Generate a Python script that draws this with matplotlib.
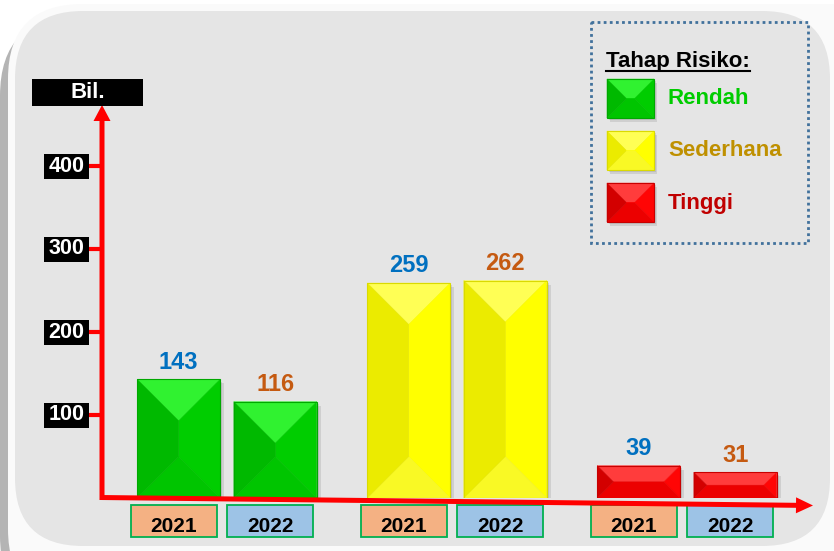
import matplotlib
matplotlib.use("Agg")
import matplotlib.pyplot as plt
from matplotlib.patches import FancyBboxPatch, Rectangle, Polygon, FancyArrow
from matplotlib.transforms import blended_transform_factory

plt.rcParams['font.family'] = ['Liberation Sans', 'DejaVu Sans']

# ---------------- data ----------------
categories = ['Rendah', 'Sederhana', 'Tinggi']
years = ['2021', '2022']
values_2021 = [143, 259, 39]
values_2022 = [116, 262, 31]
yticks = [100, 200, 300, 400]
legend_title = 'Tahap Risiko:'
y_label = 'Bil.'

# ---------------- styles ----------------
W, H = 834, 551
fig = plt.figure(figsize=(W / 100, H / 100), dpi=100)
fig.patch.set_facecolor('white')

facets = {
    'Rendah':    dict(top='#30F230', left='#00B900', right='#00CD00', bottom='#00C500', center='#00CA00', edge='#00A800'),
    'Sederhana': dict(top='#FFFF55', left='#EBEB00', right='#FFFF00', bottom='#F9F925', center='#FCFC05', edge='#DADA00'),
    'Tinggi':    dict(top='#FF3C3C', left='#D30000', right='#FF0505', bottom='#EC0000', center='#FA0000', edge='#C80000'),
}
legend_text_colors = {'Rendah': '#00CC00', 'Sederhana': '#BF9000', 'Tinggi': '#C00000'}
year_val_colors = {'2021': '#0070C0', '2022': '#C55A11'}
year_box_colors = {'2021': '#F4B183', '2022': '#9DC3E6'}
RED = '#FF0000'

# background axes in pixel coordinates
ax_bg = fig.add_axes([0, 0, 1, 1], zorder=0)
ax_bg.set_xlim(0, W); ax_bg.set_ylim(H, 0); ax_bg.axis('off')

ax_bg.add_patch(FancyBboxPatch((0, 16), 900, 600, boxstyle='round,pad=0,rounding_size=80',
                               fc='#B4B4B4', ec='none'))
ax_bg.add_patch(FancyBboxPatch((8, 4), 900, 600, boxstyle='round,pad=0,rounding_size=75',
                               fc='#FAFAFA', ec='none'))
ax_bg.add_patch(FancyBboxPatch((15, 11), 815, 535, boxstyle='round,pad=0,rounding_size=68',
                               fc='#E5E5E5', ec='none'))

# main data axes (bars)
left_px, right_px = 100, 810
base_px = 498
sx = 230.0          # px per x unit
sy = 0.83           # px per value unit
ymax = 480
ax = fig.add_axes([left_px / W, (H - base_px) / H, (right_px - left_px) / W, ymax * sy / H], zorder=1)
ax.patch.set_alpha(0)
ax.set_xlim(-0.552, -0.552 + (right_px - left_px) / sx)
ax.set_ylim(0, ymax)
ax.axis('off')

# overlay axes (axis arrows, labels, legend)
ax_top = fig.add_axes([0, 0, 1, 1], zorder=2)
ax_top.patch.set_alpha(0)
ax_top.set_xlim(0, W); ax_top.set_ylim(H, 0); ax_top.axis('off')


def bevel(axis, l, r, yb, yt, bx, by, c, z=3, shadow=None):
    sgn = 1 if yt > yb else -1
    if shadow is not None:
        dx, dy = shadow
        for k, a in [(1.0, 0.18), (0.6, 0.18)]:
            axis.add_patch(Rectangle((l + dx * k, min(yb, yt) + dy * k), r - l, abs(yt - yb),
                                     fc='#707070', ec='none', alpha=a, zorder=z - 1))
    TL, TR, BR, BL = (l, yt), (r, yt), (r, yb), (l, yb)
    iTL = (l + bx, yt - sgn * by); iTR = (r - bx, yt - sgn * by)
    iBR = (r - bx, yb + sgn * by); iBL = (l + bx, yb + sgn * by)
    for pts, col in [([iTL, iTR, iBR, iBL], c['center']),
                     ([TL, TR, iTR, iTL], c['top']),
                     ([TR, BR, iBR, iTR], c['right']),
                     ([BR, BL, iBL, iBR], c['bottom']),
                     ([BL, TL, iTL, iBL], c['left'])]:
        axis.add_patch(Polygon(pts, closed=True, fc=col, ec=col, lw=0.3, zorder=z))
    axis.add_patch(Polygon([TL, TR, BR, BL], closed=True, fc='none', ec=c['edge'], lw=0.8, zorder=z + 0.1))


# bars
bar_w = 0.36
offset = 0.21
for gi, cat in enumerate(categories):
    for yi, (yr, vals) in enumerate(zip(years, [values_2021, values_2022])):
        v = vals[gi]
        xc = gi + (offset if yi else -offset)
        w_px = bar_w * sx
        h_px = v * sy
        b = min(w_px, h_px) / 2
        bevel(ax, xc - bar_w / 2, xc + bar_w / 2, 0, v, b / sx, b / sy, facets[cat],
              shadow=(4 / sx, -4 / sy))
        ax.annotate(str(v), (xc, v), xytext=(0, 4), textcoords='offset points',
                    ha='center', va='bottom', fontsize=17, fontweight='bold',
                    color=year_val_colors[yr], zorder=6)

        # year box below axis
        tr = blended_transform_factory(ax.transData, ax_top.transData)
        bxc = xc - 0.022
        bw = 86 / sx
        ax_top.add_patch(Rectangle((bxc - bw / 2, 505), bw, 32, transform=tr,
                                   fc=year_box_colors[yr], ec='#00B050', lw=1.3, zorder=4))
        ax_top.text(bxc, 526, yr, transform=tr, ha='center', va='center',
                    fontsize=15, fontweight='bold', color='black', zorder=5)

# axes arrows
ax_top.add_patch(FancyArrow(102, 500, 0, -395, width=5, head_width=17, head_length=16,
                            length_includes_head=True, color=RED, lw=0, zorder=5))
ax_top.add_patch(FancyArrow(100, 497.5, 713, 8, width=5, head_width=16, head_length=17,
                            length_includes_head=True, color=RED, lw=0, zorder=5))

# y ticks with black label boxes
tr_y = blended_transform_factory(ax_top.transData, ax.transData)
for t in yticks:
    ax_top.plot([89, 102], [t, t], transform=tr_y, color=RED, lw=3, solid_capstyle='butt', zorder=5)
    ax_top.add_patch(Rectangle((44, t - 12.5 / sy), 45, 25 / sy, transform=tr_y,
                               fc='black', ec='none', zorder=5))
    ax_top.text(66.5, t, str(t), transform=tr_y, ha='center', va='center',
                fontsize=15.5, fontweight='bold', color='white', zorder=6)

# "Bil." label
ax_top.add_patch(Rectangle((32, 79), 111, 27, fc='black', ec='none', zorder=5))
ax_top.text(87.5, 93, y_label, ha='center', va='center', fontsize=16,
            fontweight='bold', color='white', zorder=6)

# legend
ax_top.add_patch(Rectangle((591, 22), 217, 221, fc='none', ec='#41719C', lw=2,
                           ls=(0, (1, 1.2)), zorder=4))
ax_top.text(606, 61, legend_title, ha='left', va='center', fontsize=16,
            fontweight='bold', color='black', zorder=6)
ax_top.plot([606, 750], [71, 71], color='black', lw=1.5, zorder=6)
sw_tops = [79, 131, 183]
for cat, ytop in zip(categories, sw_tops):
    bevel(ax_top, 607, 654, ytop + 39, ytop, 19, 19, facets[cat], z=5, shadow=(3, 4))
    ax_top.text(668, ytop + 20, cat, ha='left', va='center', fontsize=16,
                fontweight='bold', color=legend_text_colors[cat], zorder=6)

fig.savefig('out.png', dpi=100, facecolor=fig.get_facecolor())
